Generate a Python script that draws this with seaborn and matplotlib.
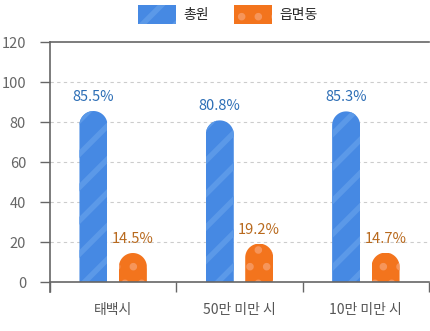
import matplotlib
matplotlib.use("Agg")
import matplotlib.pyplot as plt
from matplotlib.patches import PathPatch, Patch
from matplotlib.path import Path
import numpy as np
import seaborn as sns
import pandas as pd

categories = ["태백시", "50만 미만 시", "10만 미만 시"]
series_names = ["총원", "읍면동"]
total_vals = [85.5, 80.8, 85.3]
town_vals = [14.5, 19.2, 14.7]
yticks = [0, 20, 40, 60, 80, 100, 120]

df = pd.DataFrame({
    "region": categories * 2,
    "group": [series_names[0]] * 3 + [series_names[1]] * 3,
    "value": total_vals + town_vals,
})

sns.set_theme(style="white")
plt.rcParams["font.family"] = ["Noto Sans CJK KR", "DejaVu Sans"]
plt.rcParams["hatch.linewidth"] = 4.0

BLUE = "#4689e3"
BLUE_L = "#5b99e8"
ORANGE = "#f3741d"
ORANGE_L = "#f6955a"
AXC = "#666666"

fig = plt.figure(figsize=(4.30, 3.31), dpi=100)
ax = fig.add_axes([50 / 430, 39 / 331, 379 / 430, 250 / 331])

sns.barplot(data=df, x="region", y="value", hue="group", order=categories,
            hue_order=series_names, palette=[BLUE, ORANGE],
            width=0.624, gap=0.29, ax=ax, legend=False, saturation=1)

ax.set_xlim(-0.5, 2.5)
ax.set_ylim(-5, 120)


def set_hlw(p, lw):
    if hasattr(p, "set_hatch_linewidth"):
        p.set_hatch_linewidth(lw)
    else:
        p._hatch_linewidth = lw


fills = [(BLUE_L, "/", 4.0), (ORANGE_L, ".", 3.0)]
lab_colors = ["#2b6db5", "#b8691d"]
px_per_unit_y = 250 / 125.0
theta = np.linspace(0, np.pi, 40)
for ci, cont in enumerate(ax.containers):
    light, hatch, hlw = fills[ci]
    for bar in cont:
        x0 = bar.get_x()
        w = bar.get_width()
        h = bar.get_height()
        bar.set_hatch(hatch)
        bar.set_edgecolor(light)
        bar.set_linewidth(0)
        set_hlw(bar, hlw)
        rx = w / 2
        ry = 14 / px_per_unit_y
        cx = x0 + rx
        cy = h - ry
        arc_x = cx + rx * np.cos(theta)
        arc_y = cy + ry * np.sin(theta)
        xs = np.concatenate([[x0 + w], arc_x, [x0, x0 + w]])
        ys = np.concatenate([[-10], arc_y, [-10, -10]])
        clip = PathPatch(Path(np.column_stack([xs, ys])), transform=ax.transData,
                         facecolor="none", edgecolor="none")
        bar.set_clip_path(clip)
        ax.text(x0 + w / 2, h + 3.5, f"{h}%", ha="center", va="bottom",
                color=lab_colors[ci], fontsize=10.5)

# grid
for yv in yticks[1:-1]:
    ax.axhline(yv, color="#cccccc", lw=0.8, ls=(0, (3, 3)), zorder=0)

# spines
for s in ["left", "bottom", "top"]:
    ax.spines[s].set_color(AXC)
    ax.spines[s].set_linewidth(1.2)
ax.spines["right"].set_visible(False)
ax.spines["bottom"].set_position(("data", 0))

ax.set_yticks(yticks)
ax.set_yticklabels([str(v) for v in yticks])
ax.tick_params(axis="y", direction="out", length=7.2, width=1, color=AXC,
               labelcolor="#666666", labelsize=10.5, pad=10, left=True)
ax.set_xticks(range(len(categories)))
ax.set_xticklabels(categories)
ax.tick_params(axis="x", which="major", length=0, labelcolor="#555555",
               labelsize=10, pad=15)
ax.set_xticks([-0.5, 0.5, 1.5, 2.5], minor=True)
ax.tick_params(axis="x", which="minor", direction="out", length=7.2,
               width=1, color=AXC, bottom=True)
ax.set_xlabel("")
ax.set_ylabel("")

h1 = Patch(facecolor=BLUE, edgecolor=BLUE_L, hatch="/", linewidth=0)
h2 = Patch(facecolor=ORANGE, edgecolor=ORANGE_L, hatch=".", linewidth=0)
leg = fig.legend(handles=[h1, h2], labels=series_names, loc="center",
                 bbox_to_anchor=(228 / 430, 1 - 14.5 / 331), ncol=2, frameon=False,
                 fontsize=10, handlelength=2.7, handleheight=1.8, handletextpad=0.55,
                 columnspacing=1.8, borderpad=0)
for lh, (_, _, hlw) in zip(leg.legend_handles, fills):
    set_hlw(lh, hlw)

fig.savefig("out.png", dpi=100)
